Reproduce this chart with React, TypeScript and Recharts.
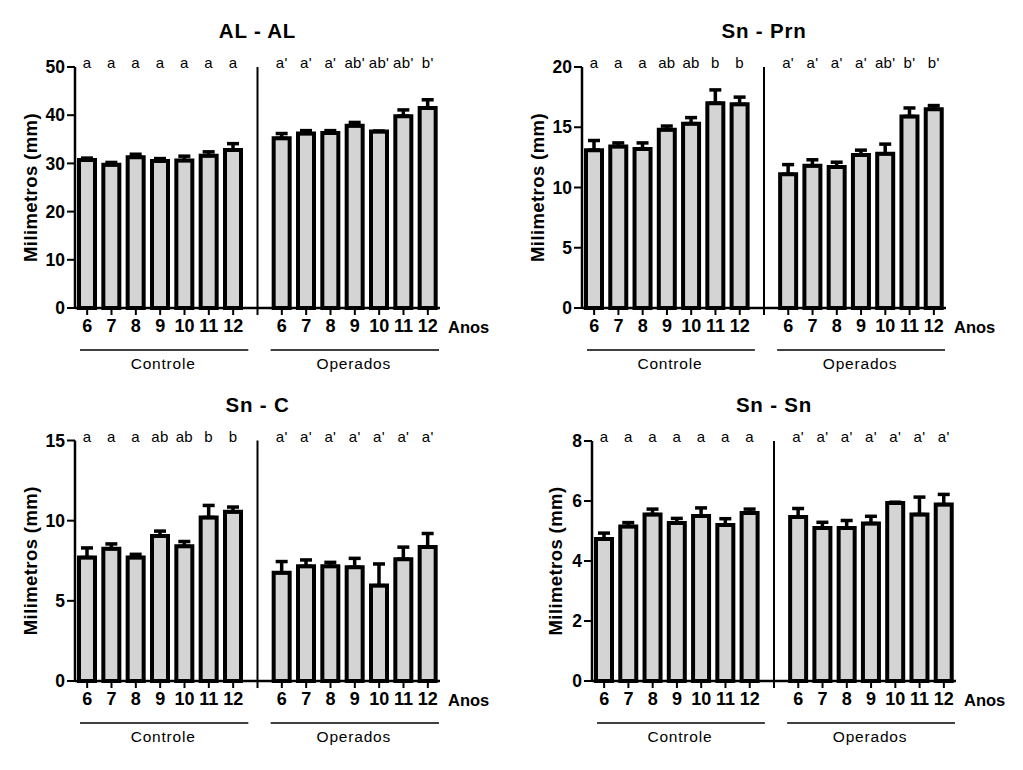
import {
  BarChart,
  Bar,
  XAxis,
  YAxis,
  ErrorBar,
  LabelList,
  ReferenceLine,
  ReferenceArea,
} from "recharts";

const FONT = "'Liberation Sans', Arial, Helvetica, sans-serif";

// age categories (x tick labels), shared by both groups
const ages = ["6", "7", "8", "9", "10", "11", "12"];
const groups = ["Controle", "Operados"];

// AL - AL
const alCtrl = [30.7, 29.7, 31.3, 30.5, 30.6, 31.6, 32.8];
const alCtrlErr = [0.4, 0.5, 0.6, 0.5, 0.9, 0.8, 1.3];
const alOp = [35.2, 36.2, 36.3, 37.8, 36.6, 39.8, 41.5];
const alOpErr = [1.0, 0.6, 0.5, 0.7, 0.1, 1.3, 1.7];
const alCtrlLetters = ["a", "a", "a", "a", "a", "a", "a"];
const alOpLetters = ["a'", "a'", "a'", "ab'", "ab'", "ab'", "b'"];
const alTicks = [0, 10, 20, 30, 40, 50];

// Sn - Prn
const prnCtrl = [13.1, 13.4, 13.2, 14.8, 15.3, 17.0, 16.9];
const prnCtrlErr = [0.8, 0.3, 0.5, 0.3, 0.5, 1.1, 0.6];
const prnOp = [11.1, 11.8, 11.7, 12.7, 12.8, 15.9, 16.5];
const prnOpErr = [0.8, 0.5, 0.4, 0.4, 0.8, 0.7, 0.3];
const prnCtrlLetters = ["a", "a", "a", "ab", "ab", "b", "b"];
const prnOpLetters = ["a'", "a'", "a'", "a'", "ab'", "b'", "b'"];
const prnTicks = [0, 5, 10, 15, 20];

// Sn - C
const cCtrl = [7.7, 8.25, 7.7, 9.05, 8.4, 10.2, 10.55];
const cCtrlErr = [0.6, 0.3, 0.2, 0.3, 0.3, 0.75, 0.3];
const cOp = [6.75, 7.15, 7.15, 7.1, 5.95, 7.6, 8.35];
const cOpErr = [0.7, 0.4, 0.25, 0.55, 1.35, 0.75, 0.85];
const cCtrlLetters = ["a", "a", "a", "ab", "ab", "b", "b"];
const cOpLetters = ["a'", "a'", "a'", "a'", "a'", "a'", "a'"];
const cTicks = [0, 5, 10, 15];

// Sn - Sn
const snCtrl = [4.73, 5.15, 5.55, 5.27, 5.5, 5.2, 5.6];
const snCtrlErr = [0.2, 0.13, 0.18, 0.15, 0.27, 0.21, 0.13];
const snOp = [5.47, 5.1, 5.1, 5.25, 5.93, 5.55, 5.88];
const snOpErr = [0.28, 0.19, 0.25, 0.24, 0.03, 0.58, 0.34];
const snCtrlLetters = ["a", "a", "a", "a", "a", "a", "a"];
const snOpLetters = ["a'", "a'", "a'", "a'", "a'", "a'", "a'"];
const snTicks = [0, 2, 4, 6, 8];

type Row = {
  key: string;
  age: string;
  value: number | null;
  err: [number, number];
  letter: string;
};

const buildRows = (
  ctrl: number[], ctrlErr: number[], ctrlLet: string[],
  op: number[], opErr: number[], opLet: string[]
): Row[] => {
  const rows: Row[] = [];
  ages.forEach((a, i) =>
    rows.push({ key: "c" + a, age: a, value: ctrl[i], err: [0, ctrlErr[i]], letter: ctrlLet[i] })
  );
  rows.push({ key: "gap", age: "", value: null, err: [0, 0], letter: "" });
  ages.forEach((a, i) =>
    rows.push({ key: "o" + a, age: a, value: op[i], err: [0, opErr[i]], letter: opLet[i] })
  );
  return rows;
};

interface PanelProps {
  title: string;
  rows: Row[];
  ticks: number[];
  left: number;
  top: number;
  width: number;
  height: number;
  plot: { left: number; right: number; top: number; bottom: number };
  yLabelX: number;
}

const Y_AXIS_W = 60;
const X_AXIS_H = 30;

const Panel = ({ title, rows, ticks, left, top, width, height, plot, yLabelX }: PanelProps) => {
  const margin = {
    top: plot.top,
    right: width - plot.right,
    bottom: height - plot.bottom - X_AXIS_H,
    left: plot.left - Y_AXIS_W,
  };
  const ageOf: Record<string, string> = {};
  rows.forEach((r) => (ageOf[r.key] = r.age));

  const letter = (props: any) => {
    const vb = props.viewBox || props;
    if (!props.value) return null;
    const x = Number(vb.x ?? props.x) + Number(vb.width ?? props.width) / 2;
    return (
      <text x={x} y={plot.top + 1} textAnchor="middle" fontFamily={FONT} fontSize={15} letterSpacing={0.3} fill="#000">
        {props.value}
      </text>
    );
  };

  const groupMark = (name: string, shift: number) => (p: any) => (
    <g>
      <line x1={p.x + 2 + shift} x2={p.x + p.width + shift} y1={plot.bottom + 42} y2={plot.bottom + 42} stroke="#000" strokeWidth={1.6} />
      <text
        x={p.x + p.width / 2 + shift}
        y={plot.bottom + 55}
        textAnchor="middle"
        dominantBaseline="central"
        fontFamily={FONT}
        fontSize={15.5}
        letterSpacing={0.8}
        fill="#000"
      >
        {name}
      </text>
    </g>
  );

  return (
    <div style={{ position: "absolute", left, top, width, height }}>
      <BarChart width={width} height={height} data={rows} margin={margin}>
        <XAxis
          dataKey="key"
          interval={0}
          height={X_AXIS_H}
          tickFormatter={(v: string) => ageOf[v]}
          tickSize={7}
          tickMargin={4}
          tick={{ fill: "#000", fontSize: 18, fontWeight: 700, fontFamily: FONT }}
          tickLine={{ stroke: "#000", strokeWidth: 2 }}
          axisLine={{ stroke: "#000", strokeWidth: 2.5 }}
          label={(p: any) => {
            const vb = p.viewBox;
            return (
              <text x={vb.x + vb.width + 8} y={vb.y + 19} dominantBaseline="central" fontFamily={FONT} fontSize={16.5} fontWeight={700} fill="#000">
                Anos
              </text>
            );
          }}
        />
        <YAxis
          width={Y_AXIS_W}
          domain={[0, ticks[ticks.length - 1]]}
          ticks={ticks}
          interval={0}
          tickSize={8}
          tickMargin={2}
          tick={{ fill: "#000", fontSize: 17.5, fontWeight: 700, fontFamily: FONT }}
          tickLine={{ stroke: "#000", strokeWidth: 2 }}
          axisLine={{ stroke: "#000", strokeWidth: 2.5 }}
          label={(p: any) => {
            const vb = p.viewBox;
            const cy = vb.y + vb.height / 2;
            return (
              <text
                x={yLabelX}
                y={cy}
                transform={`rotate(-90 ${yLabelX} ${cy})`}
                textAnchor="middle"
                dominantBaseline="central"
                fontFamily={FONT}
                fontSize={18.5}
                fontWeight={700}
                letterSpacing={0.4}
                fill="#000"
              >
                Milimetros (mm)
              </text>
            );
          }}
        />
        <ReferenceLine x="gap" stroke="#000" strokeWidth={2} />
        <ReferenceArea x1="c6" x2="c12" shape={groupMark(groups[0], 3)} />
        <ReferenceArea x1="o6" x2="o12" shape={groupMark(groups[1], -1)} />
        <Bar dataKey="value" fill="#d4d4d4" stroke="#000" strokeWidth={4} barSize={16} isAnimationActive={false}>
          <ErrorBar dataKey="err" direction="y" width={6} stroke="#000" strokeWidth={3.5} isAnimationActive={false} />
          <LabelList dataKey="letter" content={letter} />
        </Bar>
      </BarChart>
      <div
        style={{
          position: "absolute",
          left: (plot.left + plot.right) / 2 - 100,
          width: 200,
          top: plot.top - 48,
          lineHeight: "24px",
          textAlign: "center",
          fontFamily: FONT,
          fontSize: 20.5,
          fontWeight: 700,
          letterSpacing: 0.8,
          color: "#000",
        }}
      >
        {title}
      </div>
    </div>
  );
};

const App = () => (
  <div style={{ position: "absolute", left: 0, top: 0, width: 1023, height: 770, background: "#fff" }}>
    <Panel
      title="AL - AL"
      rows={buildRows(alCtrl, alCtrlErr, alCtrlLetters, alOp, alOpErr, alOpLetters)}
      ticks={alTicks}
      left={0}
      top={0}
      width={512}
      height={385}
      plot={{ left: 75, right: 440, top: 67, bottom: 308 }}
      yLabelX={30}
    />
    <Panel
      title="Sn - Prn"
      rows={buildRows(prnCtrl, prnCtrlErr, prnCtrlLetters, prnOp, prnOpErr, prnOpLetters)}
      ticks={prnTicks}
      left={512}
      top={0}
      width={511}
      height={385}
      plot={{ left: 70, right: 434, top: 67, bottom: 308 }}
      yLabelX={25}
    />
    <Panel
      title="Sn - C"
      rows={buildRows(cCtrl, cCtrlErr, cCtrlLetters, cOp, cOpErr, cOpLetters)}
      ticks={cTicks}
      left={0}
      top={385}
      width={512}
      height={385}
      plot={{ left: 75, right: 440, top: 55.5, bottom: 296 }}
      yLabelX={30}
    />
    <Panel
      title="Sn - Sn"
      rows={buildRows(snCtrl, snCtrlErr, snCtrlLetters, snOp, snOpErr, snOpLetters)}
      ticks={snTicks}
      left={512}
      top={385}
      width={511}
      height={385}
      plot={{ left: 80, right: 444, top: 56, bottom: 296 }}
      yLabelX={43}
    />
  </div>
);

export default App;
